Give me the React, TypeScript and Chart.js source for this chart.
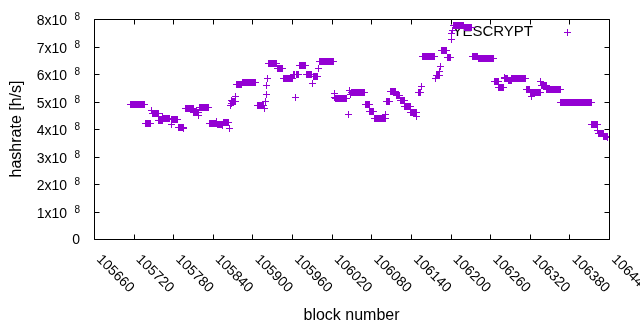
import { useEffect, useRef } from "react";
import { Chart, registerables } from "chart.js";

Chart.register(...registerables);

const SERIES_NAME = "YESCRYPT";
const X_TITLE = "block number";
const Y_TITLE = "hashrate [h/s]";
const COLOR = "#9400d3";
const FONT = '"Liberation Sans", Arial, sans-serif';

// axis ticks
const xTickValues = [105660, 105720, 105780, 105840, 105900, 105960, 106020, 106080, 106140, 106200, 106260, 106320, 106380, 106440];
const yTickMantissas = [0, 1, 2, 3, 4, 5, 6, 7, 8];
const Y_EXPONENT = 8;

// runs of consecutive blocks sharing the same hashrate estimate (x10^8 h/s)
const plateauFirstBlock = [105715, 105738, 105748, 105758, 105765, 105778, 105788, 105798, 105811, 105820, 105835, 105847, 105856, 105871, 105876, 105885, 105907, 105925, 105938, 105947, 105962, 105966, 105971, 105982, 105992, 106002, 106026, 106050, 106071, 106078, 106085, 106103, 106109, 106118, 106124, 106131, 106140, 106151, 106158, 106178, 106186, 106195, 106204, 106221, 106234, 106242, 106266, 106273, 106282, 106288, 106293, 106315, 106323, 106338, 106346, 106367, 106414, 106424, 106432];
const plateauLastBlock = [105736, 105746, 105757, 105763, 105775, 105787, 105795, 105810, 105818, 105833, 105845, 105854, 105864, 105874, 105884, 105905, 105917, 105937, 105946, 105961, 105964, 105970, 105981, 105990, 105999, 106023, 106043, 106070, 106077, 106084, 106101, 106108, 106117, 106123, 106130, 106139, 106148, 106155, 106176, 106183, 106194, 106200, 106220, 106232, 106241, 106265, 106272, 106280, 106287, 106292, 106314, 106320, 106336, 106345, 106366, 106413, 106422, 106431, 106437];
const plateauRate = [4.90, 4.20, 4.57, 4.30, 4.37, 4.35, 4.07, 4.74, 4.60, 4.78, 4.20, 4.18, 4.25, 5.00, 5.63, 5.69, 4.85, 6.40, 6.20, 5.85, 6.00, 6.00, 6.30, 5.97, 5.90, 6.46, 5.10, 5.32, 4.90, 4.64, 4.38, 5.00, 5.38, 5.22, 5.05, 4.83, 4.60, 5.32, 6.62, 5.96, 6.86, 6.60, 7.78, 7.70, 6.65, 6.55, 5.73, 5.50, 5.85, 5.76, 5.85, 5.42, 5.33, 5.60, 5.45, 4.96, 4.15, 3.85, 3.73];

// isolated blocks (x10^8 h/s)
const singleBlock = [105747, 105764, 105777, 105796, 105819, 105846, 105855, 105865, 105867, 105868, 105869, 105870, 105875, 105918, 105919, 105921, 105922, 105923, 105965, 105991, 106000, 106024, 106025, 106045, 106047, 106048, 106102, 106149, 106156, 106177, 106184, 106185, 106201, 106202, 106203, 106281, 106321, 106322, 106337, 106423, 106438];
const singleRate = [4.68, 4.45, 4.18, 4.02, 4.50, 4.28, 4.12, 4.03, 4.87, 4.93, 5.05, 5.00, 5.17, 4.75, 5.00, 5.24, 5.60, 5.84, 5.15, 5.66, 6.20, 5.30, 5.15, 4.53, 5.40, 5.25, 4.53, 4.45, 5.54, 5.84, 6.10, 6.27, 7.26, 7.48, 7.60, 5.88, 5.33, 5.17, 5.72, 3.95, 3.68];

export default function App() {
  const ref = useRef<HTMLCanvasElement>(null);

  useEffect(() => {
    document.body.style.margin = "0";
    const canvas = ref.current;
    if (!canvas) return;
    const scale = Math.pow(10, Y_EXPONENT);

    const marker = document.createElement("canvas");
    marker.width = 7;
    marker.height = 7;
    const mctx = marker.getContext("2d")!;
    mctx.fillStyle = COLOR;
    mctx.fillRect(3, 0, 1, 7);
    mctx.fillRect(0, 3, 7, 1);

    const points: { x: number; y: number }[] = [];
    plateauFirstBlock.forEach((first, i) => {
      for (let b = first; b <= plateauLastBlock[i]; b++) points.push({ x: b, y: plateauRate[i] * scale });
    });
    singleBlock.forEach((b, i) => points.push({ x: b, y: singleRate[i] * scale }));
    points.sort((a, b) => a.x - b.x);

    const frame = {
      id: "gnuplotFrame",
      beforeDatasetsDraw(chart: any) {
        const { ctx, chartArea: a } = chart;
        ctx.save();
        ctx.imageSmoothingEnabled = false;
        ctx.fillStyle = "#000";
        ctx.font = `15px ${FONT}`;
        ctx.textAlign = "right";
        ctx.textBaseline = "middle";
        ctx.fillText(SERIES_NAME, a.right - 76, a.top + 13);
        ctx.drawImage(marker, Math.round(a.right - 42) - 3, Math.round(a.top + 13) - 3);
        ctx.restore();
        ctx.imageSmoothingEnabled = false;
      },
      afterDatasetsDraw(chart: any) {
        chart.ctx.imageSmoothingEnabled = true;
      },
      afterDraw(chart: any) {
        const { ctx, chartArea: a, scales } = chart;
        const xs = scales.x;
        const ys = scales.y;
        const L = Math.round(a.left) + 0.5;
        const R = Math.round(a.right) + 0.5;
        const T = Math.round(a.top) + 0.5;
        const B = Math.round(a.bottom) + 0.5;
        ctx.save();
        ctx.strokeStyle = "#000";
        ctx.lineWidth = 1;
        ctx.beginPath();
        ctx.rect(L, T, R - L, B - T);
        const tl = 5;
        xTickValues.forEach((v) => {
          const px = Math.round(xs.getPixelForValue(v)) + 0.5;
          ctx.moveTo(px, B);
          ctx.lineTo(px, B - tl);
          ctx.moveTo(px, T);
          ctx.lineTo(px, T + tl);
        });
        yTickMantissas.forEach((m) => {
          const py = Math.round(ys.getPixelForValue(m * scale)) + 0.5;
          ctx.moveTo(L, py);
          ctx.lineTo(L + tl, py);
          ctx.moveTo(R, py);
          ctx.lineTo(R - tl, py);
        });
        ctx.stroke();

        ctx.fillStyle = "#000";
        // x tick labels, rotated by -45 degrees (gnuplot style)
        ctx.font = `14px ${FONT}`;
        ctx.textAlign = "left";
        ctx.textBaseline = "alphabetic";
        xTickValues.forEach((v) => {
          const px = xs.getPixelForValue(v);
          ctx.save();
          ctx.translate(px + 2, a.bottom + 21);
          ctx.rotate(Math.PI / 4);
          ctx.fillText(String(v), 0, 0);
          ctx.restore();
        });
        // y tick labels with superscript exponent
        ctx.textAlign = "right";
        yTickMantissas.forEach((m) => {
          const py = ys.getPixelForValue(m * scale);
          if (m === 0) {
            ctx.font = `14px ${FONT}`;
            ctx.fillText("0", a.left - 14, py + 5);
          } else {
            ctx.font = `14px ${FONT}`;
            ctx.fillText(`${m}x10`, a.left - 27, py + 6);
            ctx.font = `10px ${FONT}`;
            ctx.fillText(String(Y_EXPONENT), a.left - 14, py + 1);
          }
        });
        ctx.restore();
      },
    };

    const chart = new Chart(canvas, {
      type: "scatter",
      data: {
        datasets: [
          {
            label: SERIES_NAME,
            data: points,
            pointStyle: marker as any,
            pointRadius: 3.5,
            pointHoverRadius: 3.5,
            borderColor: COLOR,
            backgroundColor: COLOR,
            showLine: false,
          },
        ],
      },
      options: {
        responsive: false,
        animation: false,
        devicePixelRatio: 1,
        events: [],
        layout: { padding: { left: 0, top: 19, right: 31, bottom: 0 } },
        plugins: { legend: { display: false }, tooltip: { enabled: false } },
        scales: {
          x: {
            type: "linear",
            min: xTickValues[0],
            max: xTickValues[xTickValues.length - 1],
            afterBuildTicks: (s: any) => {
              s.ticks = xTickValues.map((v) => ({ value: v }));
            },
            afterFit: (s: any) => {
              s.height = 91;
            },
            grid: { display: false },
            border: { display: false },
            ticks: { display: false },
            title: {
              display: true,
              text: X_TITLE,
              color: "#000",
              font: { family: FONT, size: 16 },
              padding: { top: 0, bottom: 5 },
            },
          },
          y: {
            type: "linear",
            min: 0,
            max: yTickMantissas[yTickMantissas.length - 1] * scale,
            afterBuildTicks: (s: any) => {
              s.ticks = yTickMantissas.map((m) => ({ value: m * scale }));
            },
            afterFit: (s: any) => {
              s.width = 94;
            },
            grid: { display: false },
            border: { display: false },
            ticks: { display: false },
            title: {
              display: true,
              text: Y_TITLE,
              color: "#000",
              font: { family: FONT, size: 16 },
              padding: { top: 7, bottom: 0 },
            },
          },
        },
      },
      plugins: [frame],
    });

    return () => chart.destroy();
  }, []);

  return (
    <div style={{ width: 640, height: 330 }}>
      <canvas ref={ref} width={640} height={330} style={{ display: "block" }} />
    </div>
  );
}
